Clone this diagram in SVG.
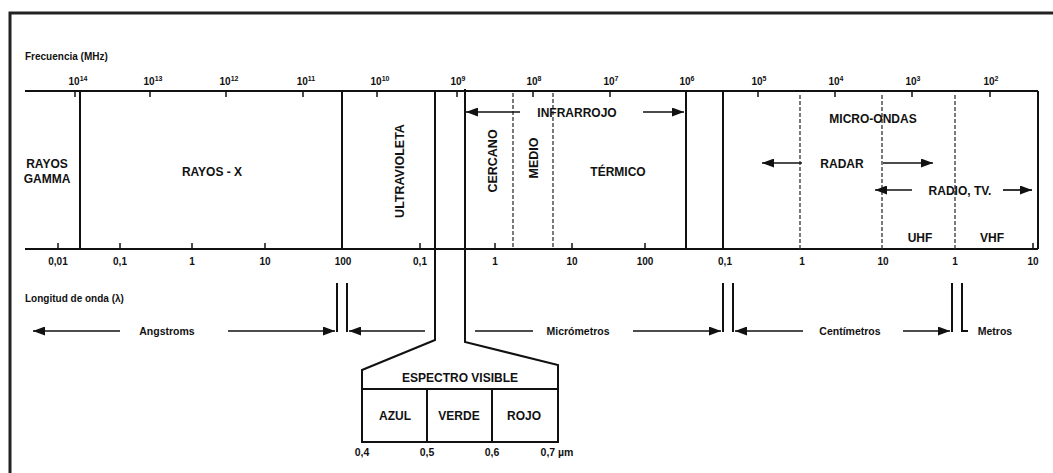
<svg xmlns="http://www.w3.org/2000/svg" width="1053" height="473" viewBox="0 0 1053 473">
<style>
text{font-family:"Liberation Sans",Arial,sans-serif;font-weight:bold;fill:#111}
.lbl{font-size:12px;text-anchor:middle}
.rot{font-size:12.5px;text-anchor:middle}
.sm{font-size:10.5px;text-anchor:middle}
.ax{font-size:10px}
.sup{font-size:7px}
.solid{stroke:#111;stroke-width:2;fill:none}
.thin{stroke:#111;stroke-width:1.6;fill:none}
.dash{stroke:#333;stroke-width:1.3;stroke-dasharray:4 2;fill:none}
.arr{stroke:#111;stroke-width:1.7;fill:none;marker-end:url(#ah)}
.tick{stroke:#111;stroke-width:1.5}
</style>
<defs>
<marker id="ah" viewBox="0 0 12 9" refX="12" refY="4.5" markerWidth="12" markerHeight="9" markerUnits="userSpaceOnUse" orient="auto"><path d="M0,0 L12,4.5 L0,9 z" fill="#111"/></marker>
</defs>
<rect width="1053" height="473" fill="#fff"/>
<g id="frame"><path d="M10,473 V13 H1053" stroke="#222" stroke-width="3" fill="none"/></g>

<g id="axes">
<text x="25" y="60" class="ax">Frecuencia (MHz)</text>
<line x1="25" y1="91" x2="1038" y2="91" class="solid"/>
<line x1="25" y1="249" x2="1038" y2="249" class="solid"/>
<line x1="1038" y1="91" x2="1038" y2="249" class="solid"/>
<g class="tick">
<line x1="75" y1="91" x2="75" y2="97"/><line x1="150" y1="91" x2="150" y2="97"/><line x1="226" y1="91" x2="226" y2="97"/><line x1="303" y1="91" x2="303" y2="97"/><line x1="377" y1="91" x2="377" y2="97"/><line x1="457" y1="91" x2="457" y2="97"/><line x1="533" y1="91" x2="533" y2="97"/><line x1="610" y1="91" x2="610" y2="97"/><line x1="758" y1="91" x2="758" y2="97"/><line x1="835" y1="91" x2="835" y2="97"/><line x1="912" y1="91" x2="912" y2="97"/><line x1="990" y1="91" x2="990" y2="97"/>
<line x1="58" y1="243" x2="58" y2="249"/><line x1="120" y1="243" x2="120" y2="249"/><line x1="192" y1="243" x2="192" y2="249"/><line x1="265" y1="243" x2="265" y2="249"/><line x1="420" y1="243" x2="420" y2="249"/><line x1="495" y1="243" x2="495" y2="249"/><line x1="572" y1="243" x2="572" y2="249"/><line x1="645" y1="243" x2="645" y2="249"/><line x1="1033" y1="243" x2="1033" y2="249"/>
</g>
<g class="ax" text-anchor="middle">
<text x="78" y="85">10<tspan class="sup" dy="-4">14</tspan></text>
<text x="153" y="85">10<tspan class="sup" dy="-4">13</tspan></text>
<text x="229" y="85">10<tspan class="sup" dy="-4">12</tspan></text>
<text x="306" y="85">10<tspan class="sup" dy="-4">11</tspan></text>
<text x="380" y="85">10<tspan class="sup" dy="-4">10</tspan></text>
<text x="458" y="85">10<tspan class="sup" dy="-4">9</tspan></text>
<text x="534" y="85">10<tspan class="sup" dy="-4">8</tspan></text>
<text x="611" y="85">10<tspan class="sup" dy="-4">7</tspan></text>
<text x="687" y="85">10<tspan class="sup" dy="-4">6</tspan></text>
<text x="759" y="85">10<tspan class="sup" dy="-4">5</tspan></text>
<text x="836" y="85">10<tspan class="sup" dy="-4">4</tspan></text>
<text x="913" y="85">10<tspan class="sup" dy="-4">3</tspan></text>
<text x="991" y="85">10<tspan class="sup" dy="-4">2</tspan></text>
<text x="58" y="265">0,01</text><text x="120" y="265">0,1</text><text x="192" y="265">1</text><text x="265" y="265">10</text><text x="343" y="265">100</text>
<text x="420" y="265">0,1</text><text x="495" y="265">1</text><text x="572" y="265">10</text><text x="645" y="265">100</text>
<text x="725" y="265">0,1</text><text x="802" y="265">1</text><text x="883" y="265">10</text><text x="955" y="265">1</text><text x="1033" y="265">10</text>
</g>
<text x="25" y="302" class="ax">Longitud de onda (λ)</text>
</g>

<g id="connectors">
<line x1="80" y1="91" x2="80" y2="249" class="solid"/>
<line x1="342" y1="91" x2="342" y2="249" class="solid"/>
<line x1="686" y1="91" x2="686" y2="249" class="solid"/>
<line x1="723" y1="91" x2="723" y2="249" class="solid"/>
<line x1="513" y1="93" x2="513" y2="249" class="dash"/>
<line x1="553" y1="93" x2="553" y2="249" class="dash"/>
<line x1="800" y1="95" x2="800" y2="249" class="dash"/>
<line x1="882" y1="95" x2="882" y2="249" class="dash"/>
<line x1="955" y1="95" x2="955" y2="249" class="dash"/>
<line x1="520" y1="112" x2="466" y2="112" class="arr"/>
<line x1="643" y1="112" x2="684" y2="112" class="arr"/>
<line x1="802" y1="163" x2="762" y2="163" class="arr"/>
<line x1="883" y1="163" x2="933" y2="163" class="arr"/>
<line x1="912" y1="190" x2="875" y2="190" class="arr"/>
<line x1="1003" y1="190" x2="1032" y2="190" class="arr"/>
<line x1="120" y1="331" x2="33" y2="331" class="arr"/>
<line x1="228" y1="331" x2="335" y2="331" class="arr"/>
<line x1="425" y1="331" x2="349" y2="331" class="arr"/>
<line x1="475" y1="331" x2="533" y2="331" class="thin"/>
<line x1="633" y1="331" x2="721" y2="331" class="arr"/>
<line x1="803" y1="331" x2="735" y2="331" class="arr"/>
<line x1="903" y1="331" x2="950" y2="331" class="arr"/>
<g class="solid">
<line x1="337" y1="283" x2="337" y2="332"/><line x1="347" y1="283" x2="347" y2="332"/>
<line x1="723" y1="283" x2="723" y2="332"/><line x1="733" y1="283" x2="733" y2="332"/>
<line x1="952" y1="283" x2="952" y2="332"/><path d="M962,283 V331 H968"/>
</g>
</g>

<g id="bands">
<text x="47" y="168" class="lbl">RAYOS</text>
<text x="47" y="183" class="lbl">GAMMA</text>
<text x="212" y="176" class="lbl">RAYOS - X</text>
<text transform="translate(404,171) rotate(-90)" class="rot">ULTRAVIOLETA</text>
<text transform="translate(497,161) rotate(-90)" class="rot">CERCANO</text>
<text transform="translate(538,158) rotate(-90)" class="rot">MEDIO</text>
<text x="618" y="176" class="lbl">TÉRMICO</text>
<text x="577" y="117" class="lbl">INFRARROJO</text>
<text x="873" y="123" class="lbl">MICRO-ONDAS</text>
<text x="842" y="168" class="lbl">RADAR</text>
<text x="960" y="195" class="lbl">RADIO, TV.</text>
<text x="920" y="242" class="lbl">UHF</text>
<text x="992" y="242" class="lbl">VHF</text>
<text x="167" y="335" class="sm">Angstroms</text>
<text x="578" y="335" class="sm">Micrómetros</text>
<text x="850" y="335" class="sm">Centímetros</text>
<text x="995" y="335" class="sm">Metros</text>
</g>

<g id="visible">
<path d="M435,91 V340 L362,370 V442 H558 V365 L465,342 V89" class="solid"/>
<line x1="362" y1="389" x2="558" y2="389" class="solid"/>
<line x1="427" y1="389" x2="427" y2="442" class="solid"/>
<line x1="492" y1="389" x2="492" y2="442" class="solid"/>
<text x="460" y="382" class="lbl">ESPECTRO VISIBLE</text>
<text x="395" y="420" class="lbl">AZUL</text>
<text x="459" y="420" class="lbl">VERDE</text>
<text x="524" y="420" class="lbl">ROJO</text>
<g class="sm"><text x="362" y="456">0,4</text><text x="427" y="456">0,5</text><text x="492" y="456">0,6</text><text x="557" y="456">0,7 µm</text></g>
</g>
</svg>
